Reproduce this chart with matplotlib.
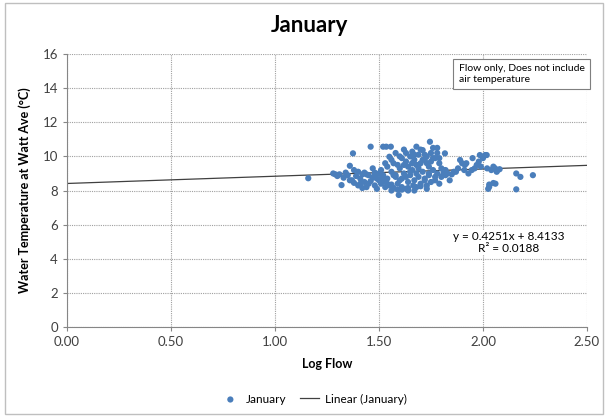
import matplotlib.pyplot as plt
from matplotlib.patches import Rectangle

plt.rcParams['font.family'] = ['Lato', 'DejaVu Sans']

# log flow / water temperature pairs for January
log_flow = [
    1.16, 1.28, 1.29, 1.30, 1.31, 1.32, 1.33, 1.34, 1.35, 1.36, 1.375, 1.37,
    1.38, 1.39, 1.40, 1.40, 1.41, 1.42, 1.42, 1.43, 1.44, 1.45, 1.46, 1.46,
    1.47, 1.48, 1.48, 1.49, 1.50, 1.50, 1.51, 1.51, 1.52, 1.52, 1.53, 1.535,
    1.54, 1.54, 1.55, 1.55, 1.557, 1.56, 1.56, 1.57, 1.57, 1.58, 1.58, 1.59,
    1.595, 1.60, 1.60, 1.61, 1.61, 1.62, 1.62, 1.63, 1.63, 1.64, 1.64, 1.65,
    1.65, 1.66, 1.665, 1.66, 1.67, 1.67, 1.68, 1.68, 1.68, 1.69, 1.69, 1.70,
    1.70, 1.71, 1.71, 1.72, 1.72, 1.73, 1.73, 1.74, 1.745, 1.74, 1.75, 1.75,
    1.76, 1.76, 1.77, 1.77, 1.78, 1.78, 1.79, 1.79, 1.80, 1.80, 1.81, 1.81,
    1.817, 1.82, 1.83, 1.84, 1.85, 1.86, 1.88, 1.89, 1.90, 1.91, 1.913, 1.93,
    1.946, 1.95, 1.96, 1.98, 1.985, 1.99, 2.00, 2.01, 2.018, 2.025, 2.03, 2.03,
    2.04, 2.05, 2.05, 2.058, 2.066, 2.07, 2.16, 2.16, 2.18, 2.24,
    1.44, 1.47, 1.49, 1.52, 1.53, 1.56, 1.58, 1.59, 1.61, 1.63, 1.64, 1.66,
    1.67, 1.69, 1.70, 1.72, 1.73, 1.75, 1.77, 1.78, 1.62, 1.65, 1.68, 1.71,
    1.74, 1.57, 1.54, 1.51, 1.48, 1.45, 1.43, 1.41, 1.38, 1.36, 1.60, 1.63,
    1.66, 1.69, 1.72, 1.76, 1.79, 1.82, 1.87, 1.92, 1.97, 2.02, 2.06, 2.08,
    1.61, 1.64, 1.67, 1.70, 1.73, 1.59, 1.56, 1.53,
]
water_temp = [
    8.72, 9.00, 8.95, 8.85, 8.95, 8.32, 8.75, 9.05, 8.90, 9.45, 10.18, 8.60,
    8.45, 8.85, 9.10, 8.30, 8.70, 8.95, 8.15, 8.50, 8.20, 8.90, 10.57, 8.55,
    8.75, 9.05, 8.30, 8.10, 8.60, 9.00, 9.20, 8.40, 8.90, 10.57, 8.20, 10.57,
    9.40, 8.70, 9.98, 8.30, 10.57, 9.10, 8.00, 8.15, 9.60, 8.80, 10.20, 8.40,
    7.74, 9.30, 8.60, 9.90, 8.20, 10.40, 9.00, 8.10, 9.70, 9.40, 8.50, 10.00,
    8.90, 10.28, 8.30, 9.20, 9.80, 8.60, 10.57, 9.50, 8.20, 10.10, 8.80, 9.60,
    8.40, 10.37, 9.10, 9.80, 8.70, 10.00, 8.30, 9.40, 10.86, 8.90, 9.70, 8.50,
    10.50, 9.20, 9.90, 8.80, 10.20, 9.00, 9.60, 8.40, 9.30, 8.80, 9.00, 9.20,
    10.18, 8.90, 9.00, 8.60, 8.95, 9.10, 9.30, 9.79, 9.60, 9.20, 9.50, 9.00,
    9.20, 9.90, 9.30, 9.70, 10.08, 9.40, 9.90, 10.08, 10.08, 8.10, 8.22, 8.35,
    9.20, 8.44, 9.40, 9.30, 9.10, 9.20, 9.00, 8.07, 8.80, 8.90,
    8.95, 9.30, 8.70, 8.80, 9.60, 9.80, 8.90, 9.50, 8.70, 10.20, 8.00, 9.60,
    10.10, 9.30, 10.40, 8.60, 9.60, 10.20, 8.60, 10.50, 9.50, 9.10, 9.00, 9.80,
    9.00, 8.90, 8.40, 8.70, 8.90, 8.40, 9.05, 8.40, 9.20, 8.60, 10.00, 8.80,
    9.60, 9.50, 10.10, 9.90, 9.90, 9.20, 9.10, 9.60, 9.50, 9.30, 8.40, 9.25,
    8.05, 8.15, 8.00, 8.25, 8.10, 8.05, 8.35, 8.55,
]

# least-squares trend reported for the series
slope = 0.4251
intercept = 8.4133
r_squared = 0.0188
trend_x = [0.0, 2.5]
trend_y = [slope * v + intercept for v in trend_x]

fig = plt.figure(figsize=(6.05, 4.16), dpi=100)
fig.patches.append(Rectangle((0.008, 0.006), 0.988, 0.986, transform=fig.transFigure,
                             fill=False, edgecolor='#bfbfbf', linewidth=1.0))
ax = fig.add_axes([0.1107, 0.214, 0.8595, 0.656])

ax.scatter(log_flow, water_temp, s=20, color='#4a7ebb', edgecolors='none',
           label='January', zorder=3)
ax.plot(trend_x, trend_y, color='#404040', linewidth=0.9, label='Linear (January)', zorder=2)

ax.set_xlim(0, 2.5)
ax.set_ylim(0, 16)
ax.set_xticks([0, 0.5, 1.0, 1.5, 2.0, 2.5])
ax.set_xticklabels(['0.00', '0.50', '1.00', '1.50', '2.00', '2.50'])
ax.set_yticks(range(0, 17, 2))
ax.tick_params(labelsize=9.5, colors='#404040', length=3, width=0.8, color='#868686')
ax.grid(True, linestyle=(0, (1, 1)), color='#a0a0a0', linewidth=0.8)
ax.set_axisbelow(True)
for side in ['top', 'right']:
    ax.spines[side].set_visible(False)
for side in ['left', 'bottom']:
    ax.spines[side].set_color('#868686')
    ax.spines[side].set_linewidth(0.8)

fig.suptitle('January', x=0.512, y=0.965, fontsize=16, fontweight='bold')
ax.set_xlabel('Log Flow', fontsize=9, fontweight='bold', labelpad=7)
ax.set_ylabel('Water Temperature at Watt Ave (\u00b0C)', fontsize=9, fontweight='bold', labelpad=8)

ax.text(0.753, 0.964, 'Flow only, Does not include\nair temperature', transform=ax.transAxes,
        fontsize=7.5, va='top', ha='left', linespacing=1.3,
        bbox=dict(boxstyle='square,pad=0.5', facecolor='white', edgecolor='#7f7f7f', linewidth=0.8))

ax.text(2.39, 4.95, 'y = %.4fx + %.4f\nR\u00b2 = %.4f' % (slope, intercept, r_squared),
        fontsize=8.5, ha='right', va='center', linespacing=1.2, multialignment='center',
        bbox=dict(facecolor='white', edgecolor='none', pad=0.5))

ax.legend(loc='upper center', bbox_to_anchor=(0.475, -0.205), ncol=2, frameon=False,
          fontsize=8.5, handlelength=1.6, handletextpad=0.5, columnspacing=1.2,
          markerscale=1.0)

fig.savefig('out.png', dpi=100)
